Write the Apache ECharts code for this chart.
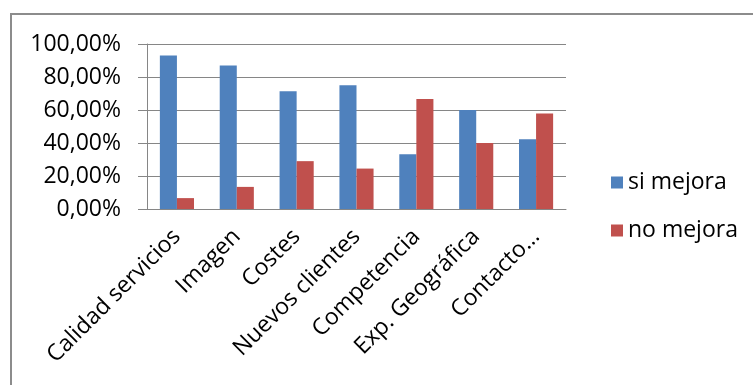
<!DOCTYPE html>
<html>
<head>
<meta charset="utf-8">
<script src="https://cdn.jsdelivr.net/npm/echarts@6/dist/echarts.min.js"></script>
<style>
  html, body { margin: 0; padding: 0; background: #fff; }
  #chart { width: 753px; height: 385px; }
</style>
</head>
<body>
<div id="chart"></div>
<script>
const categories = ['Calidad servicios', 'Imagen', 'Costes', 'Nuevos clientes', 'Competencia', 'Exp. Geográfica', 'Contacto…'];
const siMejora = [93.1, 86.9, 71.3, 75.0, 33.2, 60.0, 42.3];
const noMejora = [6.6, 13.4, 29.0, 24.5, 66.6, 40.0, 57.9];
const yTicks = [0, 20, 40, 60, 80, 100];

const font = 'Open Sans';
const chart = echarts.init(document.getElementById('chart'));

chart.setOption({
  animation: false,
  textStyle: { fontFamily: font },
  graphic: [{
    type: 'rect',
    shape: { x: 11, y: 14, width: 760, height: 400 },
    style: { fill: 'none', stroke: '#8c8c8c', lineWidth: 2 },
    silent: true
  }],
  legend: {
    orient: 'vertical',
    left: 606,
    top: 166,
    itemWidth: 12,
    itemHeight: 12,
    itemGap: 25,
    icon: 'rect',
    textStyle: { fontSize: 23, color: '#000', fontFamily: font },
    data: ['si mejora', 'no mejora']
  },
  grid: { left: 147, right: 187, top: 44, bottom: 176, containLabel: false },
  xAxis: {
    type: 'category',
    data: categories,
    axisLine: { lineStyle: { color: '#868686' } },
    axisTick: { length: 9, lineStyle: { color: '#868686' } },
    axisLabel: { rotate: 45, fontSize: 23, color: '#000', margin: 24, interval: 0 }
  },
  yAxis: {
    type: 'value',
    min: yTicks[0],
    max: yTicks[yTicks.length - 1],
    interval: 20,
    axisLine: { show: true, lineStyle: { color: '#868686' } },
    axisTick: { show: true, length: 9, lineStyle: { color: '#868686' } },
    splitLine: { lineStyle: { color: '#868686' } },
    axisLabel: {
      fontSize: 23, color: '#000', margin: 26,
      formatter: v => v.toFixed(2).replace('.', ',') + '%'
    }
  },
  series: [
    { name: 'si mejora', type: 'bar', data: siMejora, itemStyle: { color: '#4F81BD' }, barGap: '0%', barCategoryGap: '43%' },
    { name: 'no mejora', type: 'bar', data: noMejora, itemStyle: { color: '#C0504D' } }
  ]
});
</script>
</body>
</html>
